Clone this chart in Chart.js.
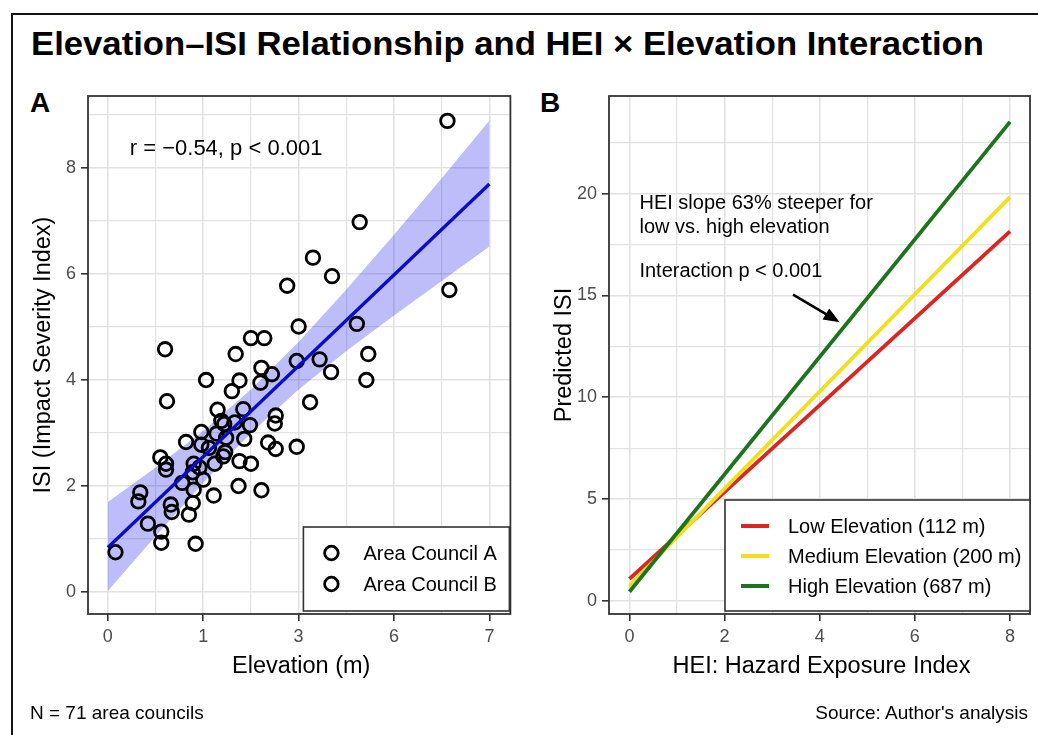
<!DOCTYPE html>
<html>
<head>
<meta charset="utf-8">
<script src="https://cdn.jsdelivr.net/npm/chart.js@4.4.1/dist/chart.umd.min.js"></script>
<style>
    body { margin: 0; width: 1038px; height: 735px; overflow: hidden; background: #fff; position: relative;
           font-family: 'Liberation Sans', Arial, sans-serif; color: #000; }
    #frame { position: absolute; left: 11px; top: 13px; width: 1100px; height: 800px; border: 2px solid #111; box-sizing: border-box; }
    #title { position: absolute; left: 31px; top: 27px; font-size: 33px; line-height: 33px; font-weight: bold; white-space: nowrap; transform-origin: left top; }
    .tag { position: absolute; top: 89px; font-size: 28px; line-height: 28px; font-weight: bold; }
    .foot { position: absolute; top: 703px; font-size: 19px; line-height: 19px; white-space: nowrap; }
    canvas { position: absolute; top: 0; }
</style>
</head>
<body>
<div id="frame"></div>
<div id="title">Elevation–ISI Relationship and HEI × Elevation Interaction</div>
<div class="tag" style="left:30px">A</div>
<div class="tag" style="left:540px">B</div>
<canvas id="chartA" width="520" height="735" style="left:0"></canvas>
<canvas id="chartB" width="518" height="735" style="left:520px"></canvas>
<div class="foot" style="left:30px">N = 71 area councils</div>
<div class="foot" style="right:10px">Source: Author's analysis</div>

<script>
// ---- Panel A data (x is the tick position 0..4, labelled by xTickLabels) ----
const xTickLabels = ['0', '1', '3', '6', '7'];
const yTickLabelsA = ['0', '2', '4', '6', '8'];

const councilA_x = [3.56, 2.15, 1.88, 2.61, 1.50, 0.60, 2.73, 2.22, 2.34, 1.03, 2.71, 1.30, 2.12, 1.42, 1.19, 1.49, 1.22, 1.14,
                    0.82, 1.68, 1.76, 1.06, 1.23, 0.61, 0.96, 1.38, 0.89, 1.00, 1.37, 1.11, 0.32, 0.67, 0.85, 0.56, 0.92, 0.08];
const councilA_y = [8.89, 6.31, 5.78, 5.06, 4.79, 4.58, 4.49, 4.39, 4.15, 4.00, 4.00, 3.79, 3.58, 3.45, 3.23, 3.15, 3.17, 2.99,
                    2.83, 2.82, 2.70, 2.72, 2.64, 2.42, 2.35, 2.47, 2.26, 2.12, 2.00, 1.82, 1.71, 1.51, 1.46, 1.14, 0.91, 0.75];
const councilB_x = [2.64, 2.35, 3.58, 2.00, 1.64, 1.34, 1.98, 1.61, 1.72, 1.38, 1.60, 0.62, 1.15, 1.76, 1.75, 1.33, 0.98,
                    1.43, 1.24, 1.98, 0.98, 0.55, 1.21, 0.61, 0.90, 1.12, 1.50, 0.78, 0.90, 1.61, 0.34, 0.66, 0.89, 0.42, 0.56];
const councilB_y = [6.98, 5.96, 5.70, 5.01, 4.79, 4.49, 4.36, 4.23, 4.11, 3.99, 3.95, 3.60, 3.44, 3.33, 3.18, 3.20, 3.02,
                    2.89, 2.91, 2.74, 2.78, 2.54, 2.56, 2.31, 2.42, 2.42, 2.42, 2.06, 1.93, 1.92, 1.88, 1.65, 1.68, 1.29, 0.93];

const fitX = [0, 4];
const fitY = [0.84, 7.70];
const bandX = [0, 0.5, 1, 1.5, 2, 2.5, 3, 3.5, 4];
const bandUpper = [1.70, 2.35, 3.04, 3.82, 4.72, 5.71, 6.74, 7.81, 8.90];
const bandLower = [0.02, 1.05, 2.06, 3.00, 3.82, 4.55, 5.22, 5.87, 6.52];
const groupNames = ['Area Council A', 'Area Council B'];

// ---- Panel B data ----
const heiX = [0, 8];
const lowElev = [1.08, 18.15];
const medElev = [0.74, 19.83];
const highElev = [0.44, 23.53];
const elevNames = ['Low Elevation (112 m)', 'Medium Elevation (200 m)', 'High Elevation (687 m)'];
const elevColors = ['#dc2420', '#f2df1c', '#1c741c'];
const arrowFrom = [3.44, 15.04];
const arrowTo = [4.42, 13.69];

const FONT = "'Liberation Sans', Arial, sans-serif";
Chart.defaults.font.family = FONT;

const title = document.getElementById('title');
title.style.transform = 'scaleX(' + (953 / title.getBoundingClientRect().width) + ')';

function pts(xs, ys) {
    return xs.map((x, i) => ({ x: x, y: ys[i] }));
}

function range(from, to, step) {
    const out = [];
    for (let v = from; v <= to + 1e-9; v += step) out.push(+v.toFixed(2));
    return out;
}

// Scale options shared by both panels
function axis(min, max, values, isMajor, label, fixedSize, horizontal) {
    return {
        type: 'linear',
        min: min,
        max: max,
        afterBuildTicks: s => { s.ticks = values.map(v => ({ value: v })); },
        afterFit: s => { if (horizontal) s.height = fixedSize; else s.width = fixedSize; },
        grid: {
            color: '#e2e2e2',
            lineWidth: c => (c.tick && isMajor(c.tick.value)) ? 1.6 : 1.2,
            tickColor: c => (c.tick && isMajor(c.tick.value)) ? '#333' : 'rgba(0,0,0,0)',
            tickWidth: 1.6,
            tickLength: 7,
            drawTicks: true
        },
        border: { display: false },
        ticks: {
            autoSkip: false,
            maxRotation: 0,
            padding: 5,
            color: '#4d4d4d',
            font: { size: 18 },
            callback: v => isMajor(v) ? label(v) : ''
        }
    };
}

function drawFrame(chart) {
    const a = chart.chartArea;
    const ctx = chart.ctx;
    ctx.save();
    ctx.strokeStyle = '#333';
    ctx.lineWidth = 1.8;
    ctx.strokeRect(a.left, a.top, a.right - a.left, a.bottom - a.top);
    ctx.restore();
}

function drawAxisTitles(chart, xTitle, yTitle) {
    const a = chart.chartArea;
    const ctx = chart.ctx;
    ctx.save();
    ctx.fillStyle = '#000';
    ctx.font = '23.5px ' + FONT;
    ctx.textAlign = 'center';
    ctx.textBaseline = 'alphabetic';
    ctx.fillText(xTitle, (a.left + a.right) / 2 + 2, 673);
    ctx.translate(a.left - 38, (a.top + a.bottom) / 2);
    ctx.rotate(-Math.PI / 2);
    ctx.fillText(yTitle, 0, 0);
    ctx.restore();
}

// ---- Panel A ----
const panelAPlugin = {
    id: 'panelA',
    afterDraw(chart) {
        const a = chart.chartArea;
        const ctx = chart.ctx;
        const xs = chart.scales.x, ys = chart.scales.y;
        drawFrame(chart);
        drawAxisTitles(chart, 'Elevation (m)', 'ISI (Impact Severity Index)');

        ctx.save();
        ctx.fillStyle = '#000';
        ctx.font = '22px ' + FONT;
        ctx.textBaseline = 'middle';
        ctx.fillText('r = −0.54, p < 0.001', xs.getPixelForValue(0.23), ys.getPixelForValue(8.36));

        // legend
        const bx = a.right - 207, by = a.bottom - 87;
        ctx.fillStyle = '#fff';
        ctx.fillRect(bx, by, 206, 84);
        ctx.strokeStyle = '#333';
        ctx.lineWidth = 1.6;
        ctx.strokeRect(bx, by, 206, 84);
        ctx.font = '20px ' + FONT;
        groupNames.forEach((name, i) => {
            const cy = by + 26 + i * 31;
            ctx.beginPath();
            ctx.arc(bx + 28, cy, 6.8, 0, Math.PI * 2);
            ctx.strokeStyle = '#000';
            ctx.lineWidth = 2.8;
            ctx.stroke();
            ctx.fillStyle = '#000';
            ctx.fillText(name, bx + 60, cy + 1);
        });
        ctx.restore();
    }
};

const pointStyle = {
    pointRadius: 6.8,
    pointBorderWidth: 2.8,
    pointBorderColor: '#000',
    pointBackgroundColor: 'rgba(0,0,0,0)',
    pointHoverRadius: 6.8
};

new Chart(document.getElementById('chartA'), {
    type: 'scatter',
    data: {
        datasets: [
            { type: 'line', data: pts(bandX, bandUpper), borderWidth: 0, pointRadius: 0, fill: '+1',
              backgroundColor: 'rgba(0,0,230,0.26)', order: 3 },
            { type: 'line', data: pts(bandX, bandLower), borderWidth: 0, pointRadius: 0, fill: false, order: 3 },
            Object.assign({ label: groupNames[0], data: pts(councilA_x, councilA_y), order: 2 }, pointStyle),
            Object.assign({ label: groupNames[1], data: pts(councilB_x, councilB_y), order: 2 }, pointStyle),
            { type: 'line', data: pts(fitX, fitY), borderColor: '#0c0cc4', borderWidth: 3.3, pointRadius: 0, fill: false, order: 1 }
        ]
    },
    options: {
        responsive: false,
        animation: false,
        layout: { padding: { left: 0, top: 96, right: 7, bottom: 51 } },
        plugins: { legend: { display: false }, tooltip: { enabled: false } },
        scales: {
            x: axis(-0.208, 4.22, range(0, 4, 0.5), v => Number.isInteger(v), v => xTickLabels[v], 70, true),
            y: axis(-0.415, 9.36, range(0, 9, 1), v => v % 2 === 0, v => yTickLabelsA[v / 2], 88, false)
        }
    },
    plugins: [panelAPlugin]
});

// ---- Panel B ----
const panelBPlugin = {
    id: 'panelB',
    afterDraw(chart) {
        const a = chart.chartArea;
        const ctx = chart.ctx;
        const xs = chart.scales.x, ys = chart.scales.y;
        drawFrame(chart);
        drawAxisTitles(chart, 'HEI: Hazard Exposure Index', 'Predicted ISI');

        ctx.save();
        ctx.fillStyle = '#000';
        ctx.font = '20px ' + FONT;
        ctx.textBaseline = 'middle';
        const tx = xs.getPixelForValue(0.21);
        ctx.fillText('HEI slope 63% steeper for', tx, ys.getPixelForValue(19.5));
        ctx.fillText('low vs. high elevation', tx, ys.getPixelForValue(18.33));
        ctx.fillText('Interaction p < 0.001', tx, ys.getPixelForValue(16.2));

        // arrow
        const x0 = xs.getPixelForValue(arrowFrom[0]), y0 = ys.getPixelForValue(arrowFrom[1]);
        const x1 = xs.getPixelForValue(arrowTo[0]), y1 = ys.getPixelForValue(arrowTo[1]);
        const ang = Math.atan2(y1 - y0, x1 - x0);
        ctx.strokeStyle = '#000';
        ctx.lineWidth = 2.5;
        ctx.beginPath();
        ctx.moveTo(x0, y0);
        ctx.lineTo(x1 - 10 * Math.cos(ang), y1 - 10 * Math.sin(ang));
        ctx.stroke();
        ctx.beginPath();
        ctx.moveTo(x1, y1);
        ctx.lineTo(x1 - 16 * Math.cos(ang) + 6.5 * Math.sin(ang), y1 - 16 * Math.sin(ang) - 6.5 * Math.cos(ang));
        ctx.lineTo(x1 - 16 * Math.cos(ang) - 6.5 * Math.sin(ang), y1 - 16 * Math.sin(ang) + 6.5 * Math.cos(ang));
        ctx.closePath();
        ctx.fill();

        // legend
        const bx = a.right - 305, by = a.bottom - 114;
        ctx.fillStyle = '#fff';
        ctx.fillRect(bx, by, 305, 111);
        ctx.strokeStyle = '#333';
        ctx.lineWidth = 1.6;
        ctx.strokeRect(bx, by, 305, 111);
        elevNames.forEach((name, i) => {
            const cy = by + 26 + i * 30;
            ctx.strokeStyle = elevColors[i];
            ctx.lineWidth = 4;
            ctx.beginPath();
            ctx.moveTo(bx + 16, cy);
            ctx.lineTo(bx + 44, cy);
            ctx.stroke();
            ctx.fillStyle = '#000';
            ctx.fillText(name, bx + 63, cy + 1);
        });
        ctx.restore();
    }
};

const lineStyle = (i) => ({ borderColor: elevColors[i], borderWidth: 3.8, pointRadius: 0, fill: false });

new Chart(document.getElementById('chartB'), {
    type: 'line',
    data: {
        datasets: [
            Object.assign({ label: elevNames[0], data: pts(heiX, lowElev), order: 3 }, lineStyle(0)),
            Object.assign({ label: elevNames[1], data: pts(heiX, medElev), order: 2 }, lineStyle(1)),
            Object.assign({ label: elevNames[2], data: pts(heiX, highElev), order: 1 }, lineStyle(2))
        ]
    },
    options: {
        responsive: false,
        animation: false,
        layout: { padding: { left: 0, top: 96, right: 8, bottom: 51 } },
        plugins: { legend: { display: false }, tooltip: { enabled: false } },
        scales: {
            x: axis(-0.43, 8.42, range(0, 8, 1), v => v % 2 === 0, v => String(v), 70, true),
            y: axis(-0.65, 24.8, range(0, 22.5, 2.5), v => v % 5 === 0, v => String(v), 89, false)
        }
    },
    plugins: [panelBPlugin]
});
</script>
</body>
</html>
